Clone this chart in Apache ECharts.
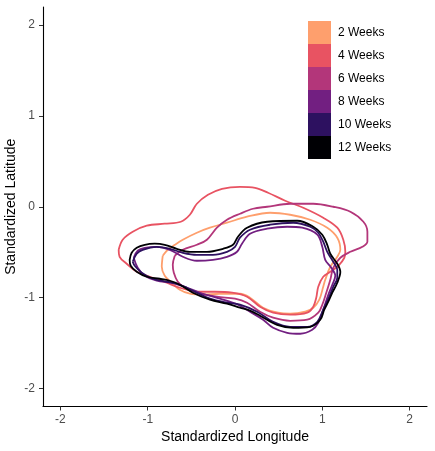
<!DOCTYPE html>
<html>
<head>
<meta charset="utf-8">
<script src="https://cdn.jsdelivr.net/npm/echarts@6/dist/echarts.min.js"></script>
<style>html,body{margin:0;padding:0;background:#fff}#c{width:435px;height:451px}</style>
</head>
<body>
<div id="c"></div>
<script>
const seriesNames = ['2 Weeks','4 Weeks','6 Weeks','8 Weeks','10 Weeks','12 Weeks'];
const seriesColors = ['#FE9F6D','#E85362','#B3367A','#721F81','#2D1160','#000004'];
const tickValues = [-2,-1,0,1,2];

const weeks2 = [[-0.828,-0.540],[-0.770,-0.474],[-0.690,-0.419],[-0.598,-0.363],[-0.437,-0.286],[-0.287,-0.231],[-0.092,-0.176],[0.138,-0.110],[0.402,-0.066],[0.632,-0.088],[0.862,-0.143],[1.057,-0.231],[1.172,-0.341],[1.207,-0.474],[1.172,-0.551],[1.092,-0.661],[1.034,-0.804],[1.011,-0.881],[0.966,-1.024],[0.897,-1.112],[0.805,-1.156],[0.632,-1.178],[0.494,-1.167],[0.322,-1.112],[0.172,-1.002],[0.057,-0.958],[-0.172,-0.958],[-0.368,-0.969],[-0.517,-0.958],[-0.632,-0.914],[-0.724,-0.837],[-0.805,-0.760],[-0.839,-0.661],[-0.828,-0.540]];
const weeks4 = [[-1.333,-0.474],[-1.287,-0.363],[-1.172,-0.275],[-1.011,-0.209],[-0.805,-0.187],[-0.621,-0.165],[-0.517,-0.088],[-0.437,0.033],[-0.310,0.132],[-0.149,0.198],[0.057,0.220],[0.230,0.209],[0.379,0.154],[0.575,0.066],[0.782,-0.011],[1.011,-0.121],[1.172,-0.231],[1.241,-0.363],[1.264,-0.496],[1.253,-0.562],[1.184,-0.650],[1.092,-0.716],[1.011,-0.771],[0.954,-0.881],[0.931,-1.002],[0.897,-1.101],[0.828,-1.167],[0.632,-1.189],[0.437,-1.167],[0.287,-1.101],[0.138,-0.991],[-0.034,-0.947],[-0.230,-0.936],[-0.402,-0.936],[-0.552,-0.914],[-0.667,-0.881],[-0.782,-0.837],[-0.977,-0.771],[-1.126,-0.716],[-1.241,-0.628],[-1.322,-0.551],[-1.333,-0.474]];
const weeks6 = [[-0.690,-0.540],[-0.598,-0.474],[-0.437,-0.419],[-0.322,-0.363],[-0.207,-0.231],[-0.092,-0.143],[0.057,-0.077],[0.207,-0.022],[0.368,0.000],[0.632,0.033],[0.897,0.033],[1.126,0.000],[1.322,-0.055],[1.471,-0.165],[1.517,-0.275],[1.517,-0.385],[1.460,-0.441],[1.322,-0.496],[1.207,-0.562],[1.126,-0.672],[1.092,-0.804],[1.046,-0.947],[1.000,-1.079],[0.954,-1.167],[0.828,-1.244],[0.632,-1.256],[0.437,-1.222],[0.287,-1.156],[0.138,-1.057],[0.000,-1.013],[-0.207,-0.991],[-0.437,-0.947],[-0.575,-0.892],[-0.655,-0.826],[-0.701,-0.727],[-0.713,-0.639],[-0.690,-0.540]];
const weeks8 = [[-1.161,-0.562],[-1.115,-0.485],[-1.034,-0.452],[-0.897,-0.441],[-0.747,-0.474],[-0.598,-0.551],[-0.437,-0.595],[-0.253,-0.584],[-0.092,-0.551],[0.023,-0.496],[0.080,-0.407],[0.172,-0.297],[0.368,-0.242],[0.598,-0.220],[0.770,-0.231],[0.943,-0.308],[1.000,-0.441],[1.034,-0.584],[1.103,-0.672],[1.149,-0.760],[1.115,-0.859],[1.069,-0.969],[1.011,-1.134],[0.954,-1.278],[0.885,-1.355],[0.747,-1.399],[0.598,-1.388],[0.437,-1.333],[0.322,-1.244],[0.172,-1.156],[0.034,-1.079],[-0.172,-1.013],[-0.402,-0.947],[-0.575,-0.881],[-0.724,-0.837],[-0.897,-0.815],[-1.034,-0.760],[-1.115,-0.672],[-1.161,-0.562]];
const weeks10 = [[-1.172,-0.606],[-1.126,-0.518],[-1.057,-0.474],[-0.897,-0.441],[-0.747,-0.463],[-0.598,-0.507],[-0.437,-0.529],[-0.253,-0.529],[-0.092,-0.496],[0.000,-0.441],[0.057,-0.341],[0.172,-0.253],[0.402,-0.198],[0.667,-0.176],[0.862,-0.220],[0.954,-0.286],[1.011,-0.385],[1.057,-0.496],[1.126,-0.606],[1.172,-0.694],[1.172,-0.782],[1.126,-0.881],[1.080,-0.991],[1.011,-1.134],[0.943,-1.267],[0.828,-1.322],[0.632,-1.322],[0.437,-1.267],[0.253,-1.156],[0.057,-1.079],[-0.092,-1.057],[-0.287,-1.013],[-0.437,-0.947],[-0.552,-0.892],[-0.667,-0.848],[-0.782,-0.826],[-0.943,-0.793],[-1.069,-0.727],[-1.149,-0.650],[-1.172,-0.606]];
const weeks12 = [[-1.207,-0.584],[-1.184,-0.507],[-1.126,-0.452],[-1.034,-0.419],[-0.920,-0.407],[-0.805,-0.419],[-0.667,-0.463],[-0.517,-0.496],[-0.322,-0.496],[-0.138,-0.463],[-0.023,-0.419],[0.034,-0.330],[0.138,-0.231],[0.368,-0.165],[0.713,-0.154],[0.897,-0.220],[1.000,-0.308],[1.057,-0.419],[1.092,-0.518],[1.172,-0.628],[1.207,-0.716],[1.172,-0.837],[1.115,-0.947],[1.069,-1.046],[1.023,-1.134],[0.977,-1.244],[0.862,-1.322],[0.667,-1.333],[0.483,-1.300],[0.287,-1.200],[0.172,-1.145],[0.057,-1.112],[-0.092,-1.068],[-0.287,-1.024],[-0.483,-0.947],[-0.632,-0.859],[-0.747,-0.815],[-0.862,-0.793],[-1.011,-0.771],[-1.126,-0.716],[-1.195,-0.650],[-1.207,-0.584]];

const allData = [weeks2, weeks4, weeks6, weeks8, weeks10, weeks12];
const FONT = 'Liberation Sans';

const chart = echarts.init(document.getElementById('c'), null, {renderer:'canvas'});
const axisCommon = {
  type:'value', min:-2.2, max:2.2,
  splitLine:{show:false},
  axisLine:{show:true, onZero:false, lineStyle:{color:'#000', width:1.1}},
  axisTick:{show:true, length:4, customValues:tickValues, lineStyle:{color:'#333', width:1}},
  axisLabel:{customValues:tickValues, color:'#4D4D4D', fontSize:12, fontFamily:FONT},
  nameLocation:'middle',
  nameMoveOverlap:false,
  nameTextStyle:{color:'#000', fontSize:14, fontFamily:FONT}
};
chart.setOption({
  animation:false,
  backgroundColor:'#fff',
  grid:{left:43, right:8, top:7, bottom:44.5, containLabel:false, outerBoundsMode:'none'},
  xAxis: Object.assign({}, axisCommon, {name:'Standardized Longitude', nameGap:24,
    axisLabel:Object.assign({}, axisCommon.axisLabel, {margin:7})}),
  yAxis: Object.assign({}, axisCommon, {name:'Standardized Latitude', nameGap:25,
    axisLabel:Object.assign({}, axisCommon.axisLabel, {margin:8})}),
  legend:{
    orient:'vertical', left:308, top:21, padding:0, itemWidth:23, itemHeight:23, itemGap:0,
    icon:'rect', selectedMode:false, data:seriesNames,
    textStyle:{color:'#000', fontSize:12, fontFamily:FONT, padding:[0,0,0,2]}
  },
  series: seriesNames.map((n,i)=>({
    name:n, type:'line', data:allData[i], smooth:0.35, showSymbol:false, symbol:'none',
    color:seriesColors[i], itemStyle:{color:seriesColors[i]},
    lineStyle:{color:seriesColors[i], width:1.8}, z:2+i
  }))
});
</script>
</body>
</html>
